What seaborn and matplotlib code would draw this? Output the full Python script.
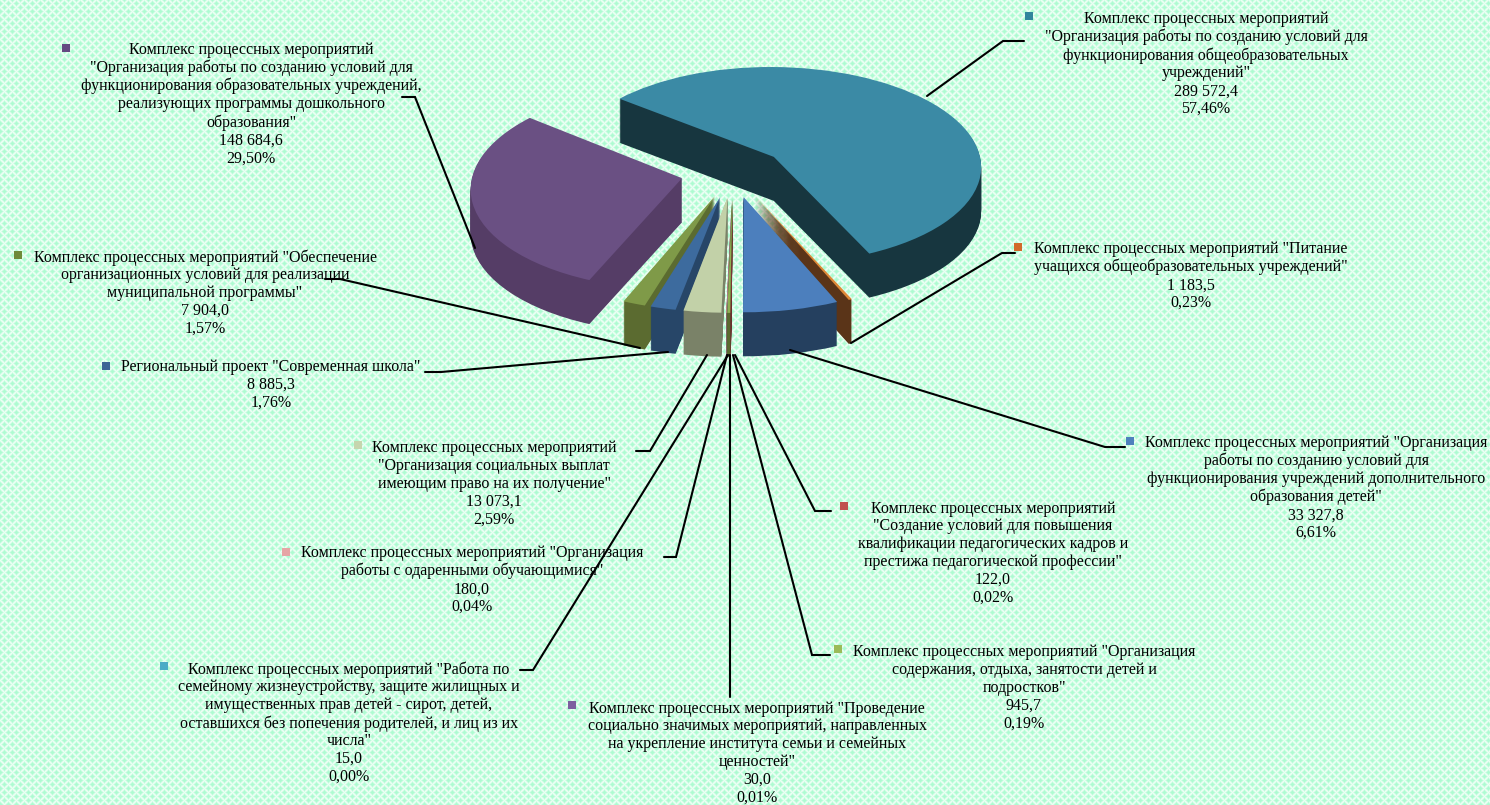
import numpy as np
import matplotlib
matplotlib.use("Agg")
import matplotlib.pyplot as plt
from matplotlib.transforms import Transform
import seaborn as sns

# ---- data (clockwise order of the pie) ----
categories = [
    'Комплекс процессных мероприятий "Организация\nработы по созданию условий для\nфункционирования учреждений дополнительного\nобразования детей"',
    'Комплекс процессных мероприятий\n"Создание условий для повышения\nквалификации педагогических кадров и\nпрестижа педагогической профессии"',
    'Комплекс процессных мероприятий "Организация\nсодержания, отдыха, занятости детей и\nподростков"',
    'Комплекс процессных мероприятий "Проведение\nсоциально значимых мероприятий, направленных\nна укрепление института семьи и семейных\nценностей"',
    'Комплекс процессных мероприятий "Работа по\nсемейному жизнеустройству, защите жилищных и\nимущественных прав детей - сирот, детей,\nоставшихся без попечения родителей, и лиц из их\nчисла"',
    'Комплекс процессных мероприятий "Организация\nработы с одаренными обучающимися"',
    'Комплекс процессных мероприятий\n"Организация социальных выплат\nимеющим право на их получение"',
    'Региональный проект "Современная школа"',
    'Комплекс процессных мероприятий "Обеспечение\nорганизационных условий для реализации\nмуниципальной программы"',
    'Комплекс процессных мероприятий\n"Организация работы по созданию условий для\nфункционирования образовательных учреждений,\nреализующих программы дошкольного\nобразования"',
    'Комплекс процессных мероприятий\n"Организация работы по созданию условий для\nфункционирования общеобразовательных\nучреждений"',
    'Комплекс процессных мероприятий "Питание\nучащихся общеобразовательных учреждений"',
]
values = [33327.8, 122.0, 945.7, 30.0, 15.0, 180.0, 13073.1, 8885.3, 7904.0, 148684.6, 289572.4, 1183.5]
value_labels = ['33 327,8', '122,0', '945,7', '30,0', '15,0', '180,0', '13 073,1', '8 885,3', '7 904,0', '148 684,6', '289 572,4', '1 183,5']
percent_labels = ['6,61%', '0,02%', '0,19%', '0,01%', '0,00%', '0,04%', '2,59%', '1,76%', '1,57%', '29,50%', '57,46%', '0,23%']

# ---- styles ----
top_colors = ['#4C7FBD', '#B5504D', '#8FAF52', '#7A5FA0', '#46A5BE', '#E09A9A',
              '#C2D1A8', '#3D6B9E', '#7F9A48', '#6A5083', '#3B8AA5', '#DE8A38']
wall_colors = ['#25405F', '#6A2F2D', '#5B6B30', '#45365C', '#27626F', '#8A6A6A',
               '#7A8268', '#274668', '#5B6B30', '#553D66', '#17363F', '#5A3418']
marker_colors = ['#4F81BD', '#C0504D', '#9BBB59', '#7D5FA0', '#4BACC6', '#E6A5A5',
                 '#C6D5AE', '#3C6496', '#6F8A3A', '#644A82', '#31859C', '#D2692A']

sns.set_theme(style="white")
plt.rcParams['font.family'] = ['Liberation Serif', 'DejaVu Serif']

fig = plt.figure(figsize=(14.9, 8.05), dpi=100)
ax = fig.add_axes([0, 0, 1, 1])

# tiled background: mint diamonds in a soft white lattice
yy, xx = np.mgrid[0:805, 0:1490]
lattice = np.maximum(np.cos(2 * np.pi * (xx + yy) / 8), np.cos(2 * np.pi * (xx - yy) / 8))
mix = (((lattice + 1) / 2) ** 2)[..., None]
bg = np.array([0.68, 0.985, 0.82]) * (1 - mix) + np.array([0.93, 1.0, 0.96]) * mix
ax.imshow(bg, extent=(0, 1490, 805, 0), aspect='auto', interpolation='nearest', zorder=0)


class Proj(Transform):
    """Tilted perspective view of the unit pie, in pixels."""
    input_dims = output_dims = 2
    is_separable = False
    has_inverse = False

    def __init__(self, drop=0.0, cx=733.0, cy=172.0, r=209.0, s=0.48, k=0.088):
        super().__init__()
        self.drop, self.cx, self.cy, self.r, self.s, self.k = drop, cx, cy, r, s, k

    def transform_non_affine(self, xy):
        xy = np.asarray(xy, float)
        f = 1.0 / (1.0 + self.k * xy[:, 1])
        return np.column_stack([self.cx + self.r * xy[:, 0] * f,
                                self.cy - self.r * self.s * xy[:, 1] * f + self.drop])


DEPTH = 44
explode = [0.25] * len(values)
for drop in list(range(DEPTH, 0, -1)) + [0]:
    wedges, _ = ax.pie(values, colors=wall_colors if drop else top_colors, startangle=-66.6,
                       counterclock=False, explode=explode, radius=1.0,
                       wedgeprops=dict(linewidth=0))
    for w in wedges:
        w.set_transform(Proj(drop) + ax.transData)
        w.set_zorder(2 + (DEPTH - drop) * 0.001)

# ---- labels ----
label_xy = [(1316, 488), (993, 553), (1024, 688), (757, 753), (349, 723), (472, 580),
            (494, 484), (271, 385), (205, 293), (251, 104), (1206, 64), (1191, 276)]
marker_xy = [(1130, 441), (844, 506), (838, 649), (572, 705), (164, 666), (286, 552),
             (358, 445), (106, 366), (18, 255), (66, 48), (1029, 16), (1018, 247)]
leaders = [
    [(790, 350), (1105, 447), (1125, 447)],
    [(735, 355), (815, 511), (831, 511)],
    [(733, 355), (812, 655), (830, 655)],
    [(730, 355), (730, 697)],
    [(728, 355), (533, 670), (520, 670)],
    [(727, 355), (676, 557), (664, 557)],
    [(707, 355), (650, 451), (636, 451)],
    [(668, 352), (441, 372), (425, 372)],
    [(640, 348), (340, 279), (325, 279)],
    [(475, 248), (415, 97), (402, 97)],
    [(927, 96), (1003, 41), (1024, 41)],
    [(851, 343), (1002, 253), (1015, 253)],
]
for cat, val, pct, (x, y), (mx, my), col, path in zip(categories, value_labels, percent_labels,
                                                      label_xy, marker_xy, marker_colors, leaders):
    ax.text(x, y, f"{cat}\n{val}\n{pct}", ha='center', va='center', ma='center',
            fontsize=11.5, color='black', linespacing=1.15, zorder=6)
    ax.scatter([mx], [my], marker='s', s=36, color=col, linewidths=0, zorder=6)
    px, py = zip(*path)
    ax.plot(px, py, color='black', lw=1.5, solid_joinstyle='miter', zorder=5)

ax.set_aspect('auto')
ax.set_xlim(0, 1490)
ax.set_ylim(805, 0)
ax.axis('off')
fig.savefig('out.png', dpi=100)
